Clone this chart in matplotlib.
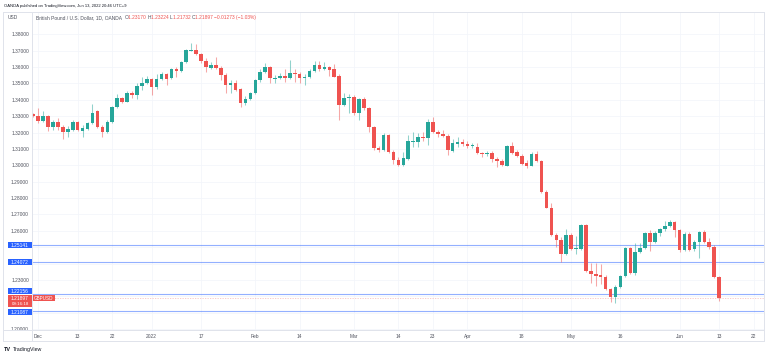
import matplotlib
matplotlib.use("Agg")
import matplotlib.pyplot as plt
import matplotlib.transforms as mtransforms
from matplotlib.patches import Rectangle
from matplotlib.colors import to_rgba
from matplotlib.lines import Line2D
import numpy as np
import pandas as pd

plt.rcParams['font.family'] = ['Liberation Sans', 'DejaVu Sans']

# ---------------- data ----------------
start_date = "2021-11-30"
end_date = "2022-06-13"
axis_end_date = "2022-06-22"

opens = [1.3313, 1.3301, 1.3273, 1.3301, 1.3236, 1.3263, 1.3236, 1.3202, 1.3216, 1.3263,
         1.3211, 1.3224, 1.3260, 1.3332, 1.3236, 1.3205, 1.3266, 1.3354, 1.3409, 1.3389,
         1.3443, 1.3428, 1.3484, 1.3501, 1.3527, 1.3476, 1.3527, 1.3556, 1.3531, 1.3588,
         1.3578, 1.3631, 1.3700, 1.3704, 1.3680, 1.3639, 1.3596, 1.3611, 1.3596, 1.3552,
         1.3490, 1.3505, 1.3464, 1.3379, 1.3405, 1.3443, 1.3521, 1.3572, 1.3599, 1.3529,
         1.3531, 1.3545, 1.3531, 1.3562, 1.3558, 1.3531, 1.3541, 1.3578, 1.3613, 1.3586,
         1.3599, 1.3586, 1.3545, 1.3368, 1.3411, 1.3419, 1.3321, 1.3403, 1.3348, 1.3232,
         1.3104, 1.3094, 1.3185, 1.3083, 1.3033, 1.3000, 1.3039, 1.3144, 1.3144, 1.3175,
         1.3165, 1.3262, 1.3205, 1.3190, 1.3181, 1.3089, 1.3130, 1.3144, 1.3128, 1.3115,
         1.3114, 1.3074, 1.3067, 1.3077, 1.3039, 1.3028, 1.2998, 1.3118, 1.3081, 1.3057,
         1.3012, 1.2998, 1.3067, 1.3026, 1.2835, 1.2741, 1.2575, 1.2544, 1.2459, 1.2575,
         1.2489, 1.2489, 1.2636, 1.2355, 1.2335, 1.2331, 1.2320, 1.2245, 1.2198, 1.2259,
         1.2324, 1.2494, 1.2341, 1.2473, 1.2494, 1.2589, 1.2534, 1.2585, 1.2610, 1.2630,
         1.2656, 1.2605, 1.2483, 1.2581, 1.2487, 1.2530, 1.2591, 1.2534, 1.2500, 1.23170]
highs = [1.3318, 1.3348, 1.3334, 1.3307, 1.3277, 1.3289, 1.3246, 1.3240, 1.3277, 1.3271,
         1.3246, 1.3266, 1.3374, 1.3338, 1.3246, 1.3277, 1.3362, 1.3436, 1.3417, 1.3451,
         1.3454, 1.3501, 1.3541, 1.3547, 1.3536, 1.3558, 1.3570, 1.3564, 1.3596, 1.3600,
         1.3640, 1.3710, 1.3745, 1.3741, 1.3688, 1.3655, 1.3633, 1.3660, 1.3606, 1.3561,
         1.3521, 1.3518, 1.3472, 1.3423, 1.3450, 1.3527, 1.3586, 1.3623, 1.3606, 1.3552,
         1.3562, 1.3586, 1.3643, 1.3586, 1.3570, 1.3558, 1.3588, 1.3637, 1.3639, 1.3633,
         1.3606, 1.3619, 1.3555, 1.3440, 1.3436, 1.3429, 1.3411, 1.3417, 1.3356, 1.3240,
         1.3118, 1.3197, 1.3194, 1.3094, 1.3051, 1.3081, 1.3185, 1.3205, 1.3197, 1.3205,
         1.3280, 1.3297, 1.3216, 1.3213, 1.3191, 1.3161, 1.3175, 1.3161, 1.3149, 1.3136,
         1.3136, 1.3083, 1.3088, 1.3085, 1.3048, 1.3039, 1.3124, 1.3144, 1.3091, 1.3069,
         1.3033, 1.3081, 1.3089, 1.3030, 1.2849, 1.2772, 1.2585, 1.2563, 1.2610, 1.2584,
         1.2569, 1.2642, 1.2642, 1.2402, 1.2402, 1.2398, 1.2331, 1.2251, 1.2269, 1.2331,
         1.2501, 1.2503, 1.2524, 1.2524, 1.2595, 1.2605, 1.2599, 1.2620, 1.2662, 1.2666,
         1.2663, 1.2611, 1.2590, 1.2595, 1.2544, 1.2599, 1.2605, 1.2559, 1.2514, 1.23224]
lows = [1.3295, 1.3260, 1.3265, 1.3210, 1.3216, 1.3216, 1.3161, 1.3175, 1.3210, 1.3210,
        1.3175, 1.3216, 1.3252, 1.3226, 1.3171, 1.3197, 1.3258, 1.3350, 1.3381, 1.3384,
        1.3409, 1.3403, 1.3460, 1.3497, 1.3429, 1.3469, 1.3521, 1.3490, 1.3527, 1.3541,
        1.3570, 1.3625, 1.3695, 1.3674, 1.3623, 1.3572, 1.3586, 1.3588, 1.3521, 1.3443,
        1.3442, 1.3454, 1.3358, 1.3371, 1.3399, 1.3436, 1.3511, 1.3564, 1.3501, 1.3501,
        1.3525, 1.3511, 1.3525, 1.3511, 1.3501, 1.3490, 1.3533, 1.3570, 1.3576, 1.3582,
        1.3545, 1.3539, 1.3274, 1.3362, 1.3321, 1.3307, 1.3274, 1.3338, 1.3205, 1.3094,
        1.3083, 1.3088, 1.3075, 1.3006, 1.2996, 1.2993, 1.3033, 1.3114, 1.3114, 1.3150,
        1.3124, 1.3197, 1.3173, 1.3170, 1.3063, 1.3081, 1.3114, 1.3115, 1.3106, 1.3106,
        1.3069, 1.3053, 1.3057, 1.3022, 1.2988, 1.2996, 1.2993, 1.3072, 1.3051, 1.3002,
        1.2984, 1.2993, 1.3020, 1.2831, 1.2738, 1.2569, 1.2503, 1.2412, 1.2453, 1.2483,
        1.2457, 1.2483, 1.2349, 1.2280, 1.2263, 1.2276, 1.2239, 1.2168, 1.2160, 1.2251,
        1.2318, 1.2334, 1.2331, 1.2463, 1.2487, 1.2477, 1.2526, 1.2569, 1.2599, 1.2624,
        1.2564, 1.2471, 1.2474, 1.2477, 1.2480, 1.2432, 1.2523, 1.2489, 1.2310, 1.21732]
closes = [1.3300, 1.3273, 1.3301, 1.3236, 1.3263, 1.3236, 1.3202, 1.3222, 1.3263, 1.3216,
          1.3226, 1.3260, 1.3321, 1.3232, 1.3205, 1.3266, 1.3354, 1.3409, 1.3389, 1.3443,
          1.3428, 1.3484, 1.3505, 1.3527, 1.3476, 1.3527, 1.3556, 1.3527, 1.3586, 1.3578,
          1.3631, 1.3704, 1.3704, 1.3680, 1.3639, 1.3599, 1.3611, 1.3596, 1.3552, 1.3490,
          1.3505, 1.3460, 1.3379, 1.3405, 1.3443, 1.3521, 1.3572, 1.3599, 1.3531, 1.3535,
          1.3545, 1.3531, 1.3562, 1.3556, 1.3531, 1.3541, 1.3578, 1.3613, 1.3586, 1.3599,
          1.3582, 1.3542, 1.3368, 1.3413, 1.3417, 1.3321, 1.3403, 1.3348, 1.3236, 1.3104,
          1.3094, 1.3185, 1.3083, 1.3033, 1.3000, 1.3043, 1.3149, 1.3150, 1.3175, 1.3165,
          1.3262, 1.3205, 1.3190, 1.3179, 1.3094, 1.3135, 1.3144, 1.3128, 1.3118, 1.3124,
          1.3074, 1.3067, 1.3077, 1.3037, 1.3028, 1.3002, 1.3118, 1.3077, 1.3057, 1.3008,
          1.2998, 1.3067, 1.3026, 1.2835, 1.2741, 1.2575, 1.2544, 1.2459, 1.2575, 1.2489,
          1.2497, 1.2636, 1.2355, 1.2335, 1.2324, 1.2316, 1.2245, 1.2198, 1.2259, 1.2324,
          1.2494, 1.2341, 1.2469, 1.2494, 1.2589, 1.2534, 1.2585, 1.2610, 1.2630, 1.2656,
          1.2605, 1.2483, 1.2581, 1.2483, 1.2534, 1.2591, 1.2534, 1.2500, 1.2320, 1.21897]

tick_dates = ["2021-12-01", "2021-12-13", "2021-12-22", "2022-01-03", "2022-01-17",
              "2022-02-01", "2022-02-14", "2022-03-01", "2022-03-14", "2022-03-23",
              "2022-04-01", "2022-04-18", "2022-05-02", "2022-05-16", "2022-06-01",
              "2022-06-13", "2022-06-22"]
tick_labels = ["Dec", "13", "22", "2022", "17", "Feb", "14", "Mar", "14", "23",
               "Apr", "18", "May", "16", "Jun", "13", "22"]

price_ticks = [1.20, 1.21, 1.22, 1.23, 1.24, 1.25, 1.26, 1.27, 1.28, 1.29,
               1.30, 1.31, 1.32, 1.33, 1.34, 1.35, 1.36, 1.37, 1.38]
hidden_price_labels = [1.21, 1.22, 1.24, 1.25]

level_lines = [1.25141, 1.24072, 1.22156, 1.21087]
last_price = 1.21897
countdown = "09:16:18"
symbol = "GBPUSD"

publish_text = "OANDA published on TradingView.com, Jun 13, 2022 20:46 UTC+9"
series_title = "British Pound / U.S. Dollar, 1D, OANDA"
ohlc_header = [("O", "1.23170"), ("H", "1.23224"), ("L", "1.21732"), ("C", "1.21897")]
change_text = "\u22120.01273 (\u22121.03%)"
currency = "USD"

# ---------------- style ----------------
UP = "#26a69a"
DOWN = "#ef5350"
BLUE = "#2962ff"
TXT = "#131722"
AXT = "#50535e"
GRID = "#f3f5fa"
BORDER = "#e0e3eb"
FS = 3.5

W, H = 768, 356
fig = plt.figure(figsize=(W / 100, H / 100), dpi=100)
fig.patch.set_facecolor("white")


def fx(px):
    return px / W


def fy(py):
    return 1 - py / H


plot_left, plot_right, plot_top, plot_bottom = 32.3, 764, 12, 330
ax = fig.add_axes([fx(plot_left), fy(plot_bottom), fx(plot_right) - fx(plot_left),
                   fy(plot_top) - fy(plot_bottom)])

dates = pd.bdate_range(start_date, end_date)
axis_dates = pd.bdate_range(start_date, axis_end_date)
n = len(opens)
x = np.arange(n)
o = np.array(opens); h = np.array(highs); l = np.array(lows); c = np.array(closes)
up = c >= o
body_cols = [UP if u else DOWN for u in up]
wick_cols = [to_rgba(UP if u else DOWN, 0.5) for u in up]

ax.vlines(x, l, h, colors=wick_cols, linewidth=0.75, zorder=3)
ax.bar(x, np.maximum(np.abs(c - o), 0.0005), bottom=np.minimum(o, c), width=0.72,
       color=body_cols, linewidth=0, zorder=4)

ax.set_xlim(-0.2, 148.1)
ax.set_ylim(1.19947, 1.39361)

for v in level_lines:
    ax.axhline(v, color=BLUE, alpha=0.5, linewidth=0.8, zorder=2)
ax.axhline(last_price, color=DOWN, alpha=0.35, linewidth=0.6, linestyle=(0, (1.5, 1.5)), zorder=2)

tick_idx = [axis_dates.get_loc(pd.Timestamp(d)) for d in tick_dates]
ax.set_xticks(tick_idx)
ax.set_xticklabels(tick_labels)
ax.set_yticks(price_ticks)
ax.set_yticklabels(["" if any(abs(p - q) < 1e-9 for q in hidden_price_labels) else f"{p:.5f}"
                    for p in price_ticks])
ax.tick_params(axis="x", length=0, pad=2.6, labelsize=FS, labelcolor=AXT)
ax.tick_params(axis="y", length=0, pad=2.4, labelsize=FS, labelcolor=AXT)
ax.grid(True, color=GRID, linewidth=0.55, zorder=0)
ax.set_axisbelow(True)
for s in ax.spines.values():
    s.set_visible(False)

fig.patches.append(Rectangle((fx(0), fy(341)), fx(32), fy(330) - fy(341),
                             transform=fig.transFigure, facecolor="white", edgecolor="none", zorder=5))


def hline_px(y, x0, x1):
    fig.add_artist(Line2D([fx(x0), fx(x1)], [fy(y), fy(y)], color=BORDER, linewidth=0.7, zorder=6))


def vline_px(xp, y0, y1):
    fig.add_artist(Line2D([fx(xp), fx(xp)], [fy(y0), fy(y1)], color=BORDER, linewidth=0.7, zorder=6))


hline_px(12, 3, 764)
hline_px(330, 3, 764)
hline_px(341, 3, 764)
vline_px(3, 12, 341)
vline_px(764, 12, 341)
vline_px(32.3, 12, 341)

for t in ax.get_xticklabels():
    t.set_zorder(7)

fig.canvas.draw()
renderer = fig.canvas.get_renderer()


def price_to_top_px(p):
    return H - ax.transData.transform((0, p))[1]


def badge(yc, text, color, x0=7.5, x1=32, hgt=6.0, textx=20):
    fig.patches.append(Rectangle((fx(x0), fy(yc + hgt / 2)), fx(x1 - x0), hgt / H,
                                 transform=fig.transFigure, facecolor=color, edgecolor="none", zorder=8))
    fig.text(fx(textx), fy(yc), text, color="white", fontsize=FS, ha="center", va="center_baseline", zorder=9)


badge_shift = {1.25141: 0.0, 1.24072: 0.0, 1.22156: -3.3, 1.21087: 0.3}
for v in level_lines:
    badge(price_to_top_px(v) + badge_shift[v], f"{v:.5f}", BLUE)

yl = price_to_top_px(last_price)
fig.patches.append(Rectangle((fx(7.5), fy(yl + 9)), fx(32 - 7.5), 12 / H,
                             transform=fig.transFigure, facecolor=DOWN, edgecolor="none", zorder=8))
fig.text(fx(20), fy(yl), f"{last_price:.5f}", color="white", fontsize=FS, ha="center",
         va="center_baseline", zorder=9)
fig.text(fx(20), fy(yl + 5.6), countdown, color="white", fontsize=FS * 0.9, ha="center",
         va="center_baseline", zorder=9)
fig.patches.append(Rectangle((fx(33), fy(yl + 2.6)), fx(21.5), 5.6 / H,
                             transform=fig.transFigure, facecolor=DOWN, edgecolor="none", zorder=8))
fig.text(fx(43.7), fy(yl), symbol, color="white", fontsize=FS * 0.95, ha="center",
         va="center_baseline", zorder=9)

fig.text(fx(4), fy(5.2), publish_text, color=TXT, fontsize=3.0, ha="left", va="center_baseline")
fig.text(fx(8), fy(17), currency, color=AXT, fontsize=FS, ha="left", va="center_baseline")


def seq_text(x0, y0, pieces, size):
    xc = x0
    for s, col in pieces:
        t = fig.text(fx(xc), fy(y0), s, color=col, fontsize=size, ha="left", va="center_baseline")
        xc += t.get_window_extent(renderer).width


pieces = [(series_title + "  ", AXT)]
for k, val in ohlc_header:
    pieces += [(k, AXT), (val + " ", DOWN)]
pieces += [(change_text, DOWN)]
seq_text(36, 17, pieces, FS)

fig.text(fx(4), fy(349), "TV", color=TXT, fontsize=4.0, fontweight="bold", ha="left", va="center_baseline")
fig.text(fx(12.5), fy(349), "TradingView", color=TXT, fontsize=3.8, ha="left", va="center_baseline")

fig.savefig("out.png", dpi=100, facecolor="white")
